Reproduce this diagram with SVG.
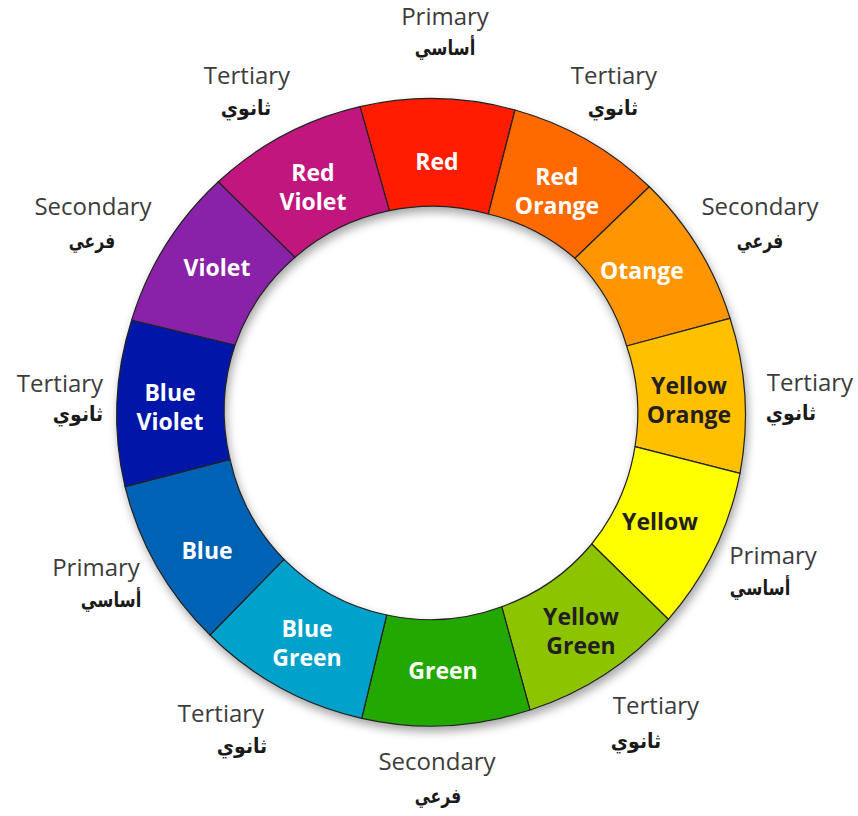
<svg xmlns="http://www.w3.org/2000/svg" width="858" height="816" viewBox="0 0 858 816">
<style>
.seg{stroke:#222;stroke-width:1.2;stroke-linejoin:round}
.lbl{font-family:"Open Sans","Noto Sans",sans-serif;font-weight:bold;font-size:23px;text-anchor:middle;fill:#fff}
.dark{fill:#231f20}
.en{font-family:"Open Sans","Noto Sans",sans-serif;font-size:24px;fill:#3c3c3c;text-anchor:middle}
.ar{font-family:"DejaVu Sans",sans-serif;font-weight:bold;font-size:20.5px;fill:#1a1a1a;text-anchor:middle}
</style>
<defs>
<filter id="sh" x="-10%" y="-10%" width="120%" height="125%">
<feDropShadow dx="2" dy="5" stdDeviation="5" flood-color="#000" flood-opacity="0.35"/>
</filter>
</defs>
<rect width="858" height="816" fill="#fff"/>
<g id="wheel" filter="url(#sh)">
<g id="red"><path class="seg" fill="#ff1e00" d="M360,106.7 A314,314 0 0 1 515,110 L488.3,214 A206,206 0 0 0 389.3,210.7 Z"/></g>
<g id="red-orange"><path class="seg" fill="#ff6a00" d="M515,110 A314,314 0 0 1 649.3,186.7 L575,258.3 A206,206 0 0 0 488.3,214 Z"/></g>
<g id="orange"><path class="seg" fill="#ff9500" d="M649.3,186.7 A314,314 0 0 1 730,318.3 L626.7,346 A206,206 0 0 0 575,258.3 Z"/></g>
<g id="yellow-orange"><path class="seg" fill="#ffc000" d="M730,318.3 A314,314 0 0 1 740,473.3 L635,446.7 A206,206 0 0 0 626.7,346 Z"/></g>
<g id="yellow"><path class="seg" fill="#ffff00" d="M740,473.3 A314,314 0 0 1 668.3,619.3 L591.7,544 A206,206 0 0 0 635,446.7 Z"/></g>
<g id="yellow-green"><path class="seg" fill="#8dc400" d="M668.3,619.3 A314,314 0 0 1 530,710 L501.7,606.7 A206,206 0 0 0 591.7,544 Z"/></g>
<g id="green"><path class="seg" fill="#22a805" d="M530,710 A314,314 0 0 1 361.7,718.3 L386.7,615 A206,206 0 0 0 501.7,606.7 Z"/></g>
<g id="blue-green"><path class="seg" fill="#00a2cb" d="M361.7,718.3 A314,314 0 0 1 210,635 L284,559.3 A206,206 0 0 0 386.7,615 Z"/></g>
<g id="blue"><path class="seg" fill="#0062b5" d="M210,635 A314,314 0 0 1 125,486.7 L230,459.3 A206,206 0 0 0 284,559.3 Z"/></g>
<g id="blue-violet"><path class="seg" fill="#0019a8" d="M125,486.7 A314,314 0 0 1 131.7,320 L235,345 A206,206 0 0 0 230,459.3 Z"/></g>
<g id="violet"><path class="seg" fill="#8a22a9" d="M131.7,320 A314,314 0 0 1 218.3,181.7 L295,257.3 A206,206 0 0 0 235,345 Z"/></g>
<g id="red-violet"><path class="seg" fill="#c2197f" d="M218.3,181.7 A314,314 0 0 1 360,106.7 L389.3,210.7 A206,206 0 0 0 295,257.3 Z"/></g>
</g>
<g id="segment-labels">
<text class="lbl" x="437" y="170">Red</text>
<text class="lbl" x="557" y="185">Red</text>
<text class="lbl" x="557" y="214">Orange</text>
<text class="lbl" x="642" y="279">Otange</text>
<text class="lbl dark" x="689" y="394">Yellow</text>
<text class="lbl dark" x="689" y="423">Orange</text>
<text class="lbl dark" x="660" y="530">Yellow</text>
<text class="lbl dark" x="581" y="625">Yellow</text>
<text class="lbl dark" x="581" y="654">Green</text>
<text class="lbl" x="443" y="679">Green</text>
<text class="lbl" x="307" y="637">Blue</text>
<text class="lbl" x="307" y="666">Green</text>
<text class="lbl" x="207" y="559">Blue</text>
<text class="lbl" x="170" y="401">Blue</text>
<text class="lbl" x="170" y="430">Violet</text>
<text class="lbl" x="217" y="276">Violet</text>
<text class="lbl" x="313" y="181">Red</text>
<text class="lbl" x="313" y="210">Violet</text>
</g>
<g id="outer-labels">
<g id="lbl-top"><text class="en" x="445" y="25">Primary</text><text class="ar" transform="translate(445,55) scale(0.8,1)">أساسي</text></g>
<g id="lbl-tr"><text class="en" x="614" y="84">Tertiary</text><text class="ar" transform="translate(613,115) scale(0.92,1)">ثانوي</text></g>
<g id="lbl-r1"><text class="en" x="760" y="215">Secondary</text><text class="ar" transform="translate(760,248) scale(0.76,1)">فرعي</text></g>
<g id="lbl-r2"><text class="en" x="810" y="391">Tertiary</text><text class="ar" transform="translate(791,420) scale(0.92,1)">ثانوي</text></g>
<g id="lbl-r3"><text class="en" x="773" y="564">Primary</text><text class="ar" transform="translate(760,595) scale(0.8,1)">أساسي</text></g>
<g id="lbl-br"><text class="en" x="656" y="714">Tertiary</text><text class="ar" transform="translate(636,748) scale(0.92,1)">ثانوي</text></g>
<g id="lbl-b"><text class="en" x="437" y="770">Secondary</text><text class="ar" transform="translate(438,803) scale(0.76,1)">فرعي</text></g>
<g id="lbl-bl"><text class="en" x="221" y="722">Tertiary</text><text class="ar" transform="translate(242,753) scale(0.92,1)">ثانوي</text></g>
<g id="lbl-l3"><text class="en" x="96" y="576">Primary</text><text class="ar" transform="translate(111,607) scale(0.8,1)">أساسي</text></g>
<g id="lbl-l2"><text class="en" x="60" y="392">Tertiary</text><text class="ar" transform="translate(78,421) scale(0.92,1)">ثانوي</text></g>
<g id="lbl-l1"><text class="en" x="93" y="215">Secondary</text><text class="ar" transform="translate(92,248) scale(0.76,1)">فرعي</text></g>
<g id="lbl-tl"><text class="en" x="247" y="84">Tertiary</text><text class="ar" transform="translate(246,115) scale(0.92,1)">ثانوي</text></g>
</g>
</svg>
